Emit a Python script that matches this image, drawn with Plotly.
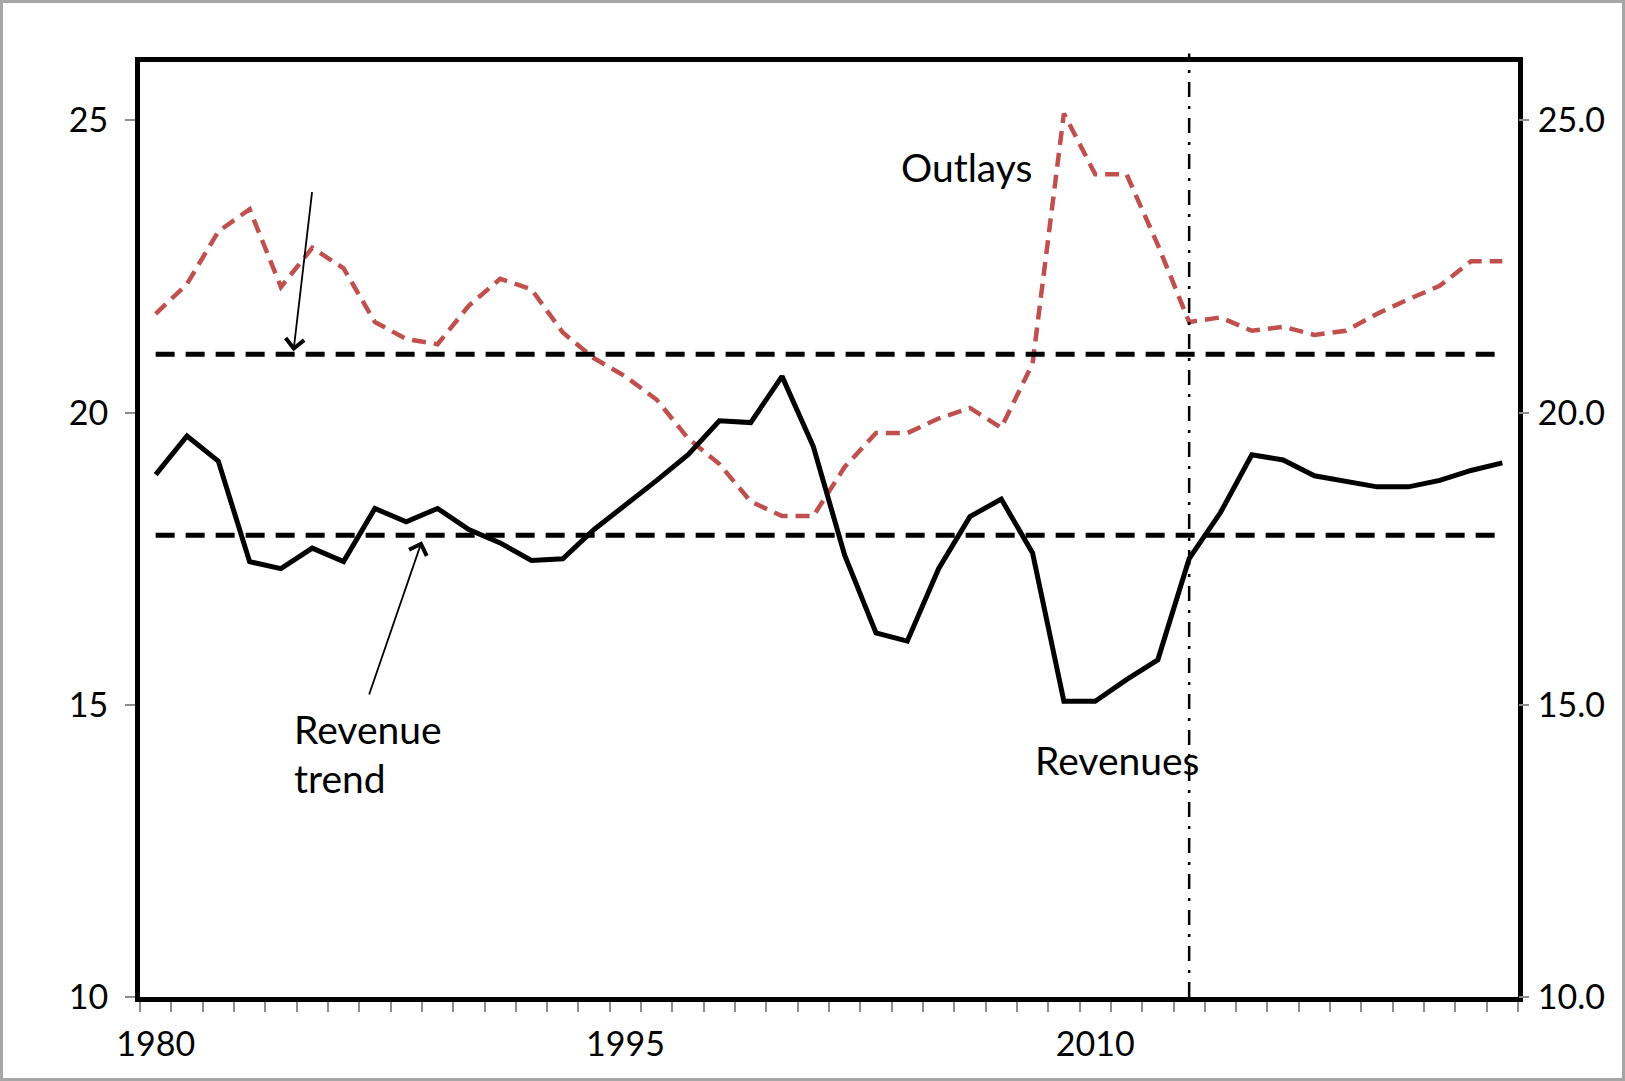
import plotly.graph_objects as go

years = list(range(1980, 2024))

revenues = [18.94, 19.60, 19.17, 17.45, 17.33, 17.68, 17.45, 18.36, 18.13, 18.36,
            18.00, 17.77, 17.47, 17.50, 18.00, 18.41, 18.84, 19.28, 19.86, 19.83,
            20.62, 19.42, 17.56, 16.23, 16.09, 17.33, 18.22, 18.52, 17.60, 15.06,
            15.06, 15.43, 15.77, 17.50, 18.29, 19.28, 19.19, 18.92, 18.82, 18.73,
            18.73, 18.84, 19.01, 19.14]

outlays = [21.69, 22.20, 23.10, 23.48, 22.15, 22.82, 22.47, 21.55, 21.26, 21.17,
           21.83, 22.29, 22.11, 21.37, 20.93, 20.62, 20.22, 19.56, 19.12, 18.48,
           18.23, 18.23, 19.07, 19.65, 19.65, 19.90, 20.08, 19.74, 20.84, 25.12,
           24.08, 24.08, 22.87, 21.55, 21.63, 21.40, 21.47, 21.33, 21.40, 21.69,
           21.94, 22.17, 22.59, 22.59]

outlay_trend = [21.0] * len(years)
revenue_trend = [17.9] * len(years)

projection_year = 2013
x_tick_labels = [1980, 1995, 2010]
y_ticks = [10, 15, 20, 25]

W, H = 1625, 1081
ML, MR, MT, MB = 140, 107, 62, 84
PW = W - ML - MR
PH = H - MT - MB

FONT = "Lato"

fig = go.Figure()

fig.add_trace(go.Scatter(x=years, y=outlay_trend, mode="lines", yaxis="y2",
                         line=dict(color="black", width=5, dash="19px,11px"),
                         hoverinfo="skip", showlegend=False))
fig.add_trace(go.Scatter(x=years, y=revenue_trend, mode="lines", yaxis="y2",
                         line=dict(color="black", width=5, dash="19px,11px"),
                         hoverinfo="skip", showlegend=False))
fig.add_trace(go.Scatter(x=years, y=outlays, mode="lines", name="Outlays",
                         line=dict(color="#C0504D", width=4.5, dash="14px,8px"),
                         showlegend=False))
fig.add_trace(go.Scatter(x=years, y=revenues, mode="lines", name="Revenues",
                         line=dict(color="black", width=5),
                         showlegend=False))

# vertical projection line
fig.add_shape(type="line", xref="x", yref="paper",
              x0=projection_year, x1=projection_year, y0=0, y1=1.009,
              line=dict(color="black", width=2.5, dash="15px,9px,3px,9px"))

# page border
fig.add_shape(type="rect", xref="paper", yref="paper",
              x0=(-ML + 1.5) / PW, x1=(PW + MR - 1.5) / PW,
              y0=(-MB + 1.5) / PH, y1=(PH + MT - 1.5) / PH,
              line=dict(color="#A6A6A6", width=3))

txt = dict(family=FONT, size=39, color="black")
fig.add_annotation(x=2005.9, y=24.2, xref="x", yref="y", text="Outlays",
                   showarrow=False, xanchor="center", yanchor="middle", font=txt)
fig.add_annotation(x=2010.7, y=14.05, xref="x", yref="y", text="Revenues",
                   showarrow=False, xanchor="center", yanchor="middle", font=txt)
fig.add_annotation(x=1984.35, y=14.58, xref="x", yref="y", text="Revenue",
                   showarrow=False, xanchor="left", yanchor="middle", font=txt)
fig.add_annotation(x=1984.35, y=13.75, xref="x", yref="y", text="trend",
                   showarrow=False, xanchor="left", yanchor="middle", font=txt)

# arrows
fig.add_annotation(x=1984.4, y=21.05, ax=1985.0, ay=23.8, xref="x", yref="y",
                   axref="x", ayref="y", text="", showarrow=True,
                   arrowhead=4, arrowsize=2.0, arrowwidth=1.8, arrowcolor="black")
fig.add_annotation(x=1988.5, y=17.8, ax=1986.8, ay=15.15, xref="x", yref="y",
                   axref="x", ayref="y", text="", showarrow=True,
                   arrowhead=4, arrowsize=2.0, arrowwidth=1.8, arrowcolor="black")

tickfont = dict(family=FONT, size=34, color="black")

fig.update_layout(
    width=W, height=H,
    margin=dict(l=ML, r=MR, t=MT, b=MB),
    paper_bgcolor="white", plot_bgcolor="white",
    showlegend=False,
    xaxis=dict(range=[1979.5, 2023.5], tickvals=x_tick_labels,
               ticktext=[str(v) for v in x_tick_labels],
               ticks="", ticklen=0, showgrid=False, zeroline=False,
               showline=True, mirror=True, linecolor="black", linewidth=5,
               tickfont=tickfont, ticklabelstandoff=13,
               minor=dict(tick0=1979.5, dtick=1, ticks="outside", ticklen=10,
                          tickcolor="#8C8C8C", tickwidth=1.5, showgrid=False)),
    yaxis=dict(range=[10, 26], tickvals=y_ticks, ticktext=[str(v) for v in y_ticks],
               ticks="outside", ticklen=10, tickcolor="#8C8C8C", tickwidth=1.5,
               showgrid=False, zeroline=False,
               showline=True, mirror=True, linecolor="black", linewidth=5,
               tickfont=tickfont, ticklabelstandoff=10),
    yaxis2=dict(range=[10, 26], overlaying="y", side="right",
                tickvals=y_ticks, ticktext=[f"{v:.1f}" for v in y_ticks],
                ticks="outside", ticklen=10, tickcolor="#8C8C8C", tickwidth=1.5,
                showgrid=False, zeroline=False, showline=False,
                tickfont=tickfont, ticklabelstandoff=2),
)

fig.write_html("out.html", config={"displayModeBar": False},
               post_script="document.body.style.margin='0';")
